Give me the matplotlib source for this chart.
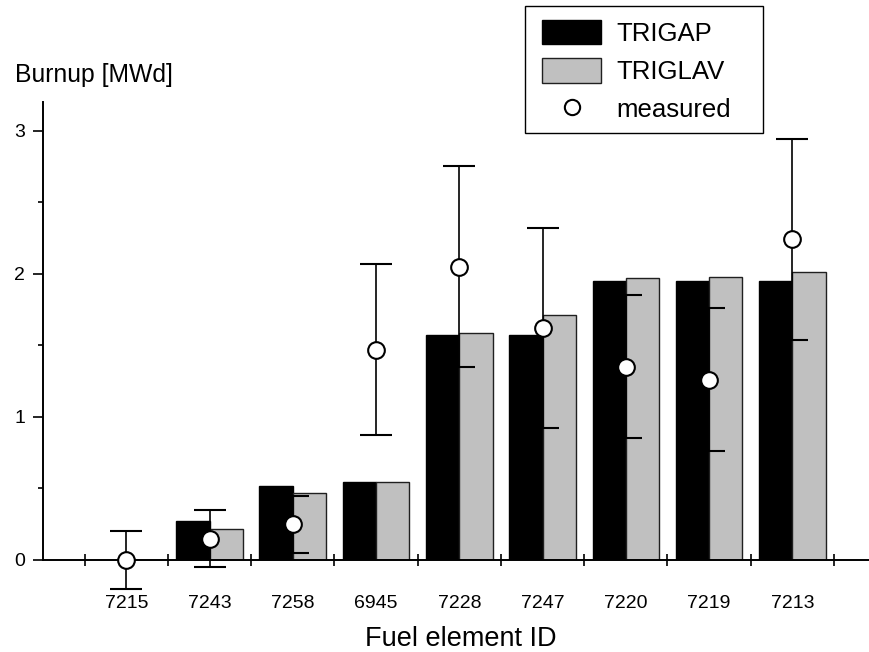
import matplotlib
matplotlib.use("Agg")
import matplotlib.pyplot as plt
import numpy as np
from matplotlib.lines import Line2D
from matplotlib.patches import Patch, Rectangle

ids = ['7215', '7243', '7258', '6945', '7228', '7247', '7220', '7219', '7213']
trigap = [0.0, 0.275, 0.52, 0.545, 1.575, 1.575, 1.95, 1.95, 1.95]
triglav = [0.0, 0.22, 0.47, 0.548, 1.585, 1.715, 1.97, 1.975, 2.01]
measured = [0.0, 0.15, 0.25, 1.47, 2.05, 1.62, 1.35, 1.26, 2.24]
meas_err = [0.2, 0.2, 0.2, 0.6, 0.7, 0.7, 0.5, 0.5, 0.7]
y_ticks = [0, 1, 2, 3]

plt.rcParams['font.family'] = ['Liberation Sans', 'DejaVu Sans']

W, H = 870, 652
fig = plt.figure(figsize=(W / 100, H / 100), dpi=100)
x0, x1, ybot, ytop = 43, 869, 560, 102
ax = fig.add_axes([x0 / W, 1 - ybot / H, (x1 - x0) / W, (ybot - ytop) / H])

x = np.arange(1, len(ids) + 1)
bw = 0.4
ax.bar(x - bw / 2, trigap, width=bw, color='black', edgecolor='black', linewidth=1, zorder=2)
ax.bar(x + bw / 2, triglav, width=bw, color='#c0c0c0', edgecolor='#202020', linewidth=1, zorder=2)
ax.errorbar(x, measured, yerr=meas_err, fmt='o', color='black', ecolor='black',
            elinewidth=1.2, capsize=11.5, capthick=1.2, markersize=12,
            markerfacecolor='white', markeredgecolor='black', markeredgewidth=1.5,
            zorder=3, clip_on=False)

ax.set_xlim(0, 9.92)
ax.set_ylim(0, 3.2)
for s in ['top', 'right']:
    ax.spines[s].set_visible(False)
for s in ['left', 'bottom']:
    ax.spines[s].set_linewidth(1.4)

ax.set_xticks(x)
ax.set_xticklabels(ids)
ax.set_xticks(np.arange(0.5, len(ids) + 1, 1.0), minor=True)
ax.tick_params(axis='x', which='major', length=0, pad=25.5, labelsize=14)
ax.tick_params(axis='x', which='minor', direction='inout', length=8.6, width=1.2)

ax.set_yticks(y_ticks)
ax.set_yticklabels([str(v) for v in y_ticks])
ax.set_yticks([0.5, 1.5, 2.5], minor=True)
ax.tick_params(axis='y', which='major', direction='out', length=7.2, width=1.2, pad=5.5, labelsize=14)
ax.tick_params(axis='y', which='minor', direction='out', length=3.6, width=1.2)

fig.text(461 / W, 1 - 646 / H, 'Fuel element ID', ha='center', va='baseline', fontsize=19.5)
fig.text(15 / W, 1 - 81.7 / H, 'Burnup [MWd]', ha='left', va='baseline', fontsize=17.8)

# legend frame
fig.patches.append(Rectangle((525 / W, 1 - 133 / H), (763 - 525) / W, (133 - 5.7) / H,
                             transform=fig.transFigure, facecolor='white',
                             edgecolor='black', linewidth=1.0, zorder=5))
handles = [Patch(facecolor='black', edgecolor='black'),
           Patch(facecolor='#c0c0c0', edgecolor='#202020'),
           Line2D([], [], linestyle='none', marker='o', markersize=11, markerfacecolor='white',
                  markeredgecolor='black', markeredgewidth=1.5)]
leg = fig.legend(handles, ['TRIGAP', 'TRIGLAV', 'measured'], loc='upper left',
                 bbox_to_anchor=(542 / W, 1 - 20 / H), bbox_transform=fig.transFigure,
                 fontsize=18.5, frameon=False,
                 handlelength=2.3, handleheight=1.08, handletextpad=0.6,
                 labelspacing=0.48, borderpad=0, borderaxespad=0)
leg.set_zorder(6)

fig.savefig('out.png', dpi=100)
